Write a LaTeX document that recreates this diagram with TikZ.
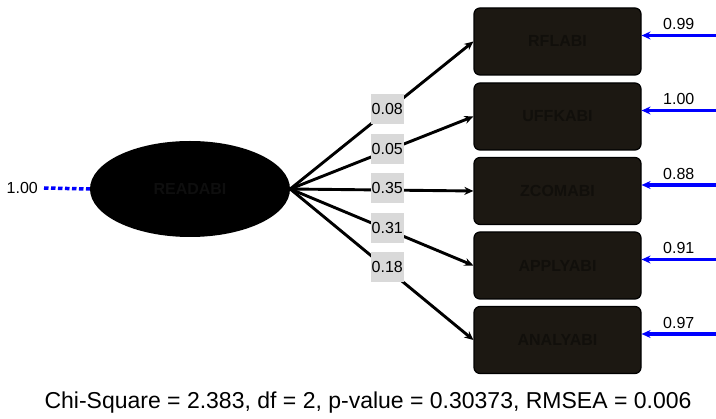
\documentclass[tikz,border=0pt]{standalone}
\usepackage{fontspec}
\setmainfont{Liberation Sans}
\usetikzlibrary{arrows.meta,shapes.geometric}
\definecolor{boxfill}{RGB}{28,24,18}
\definecolor{boxtext}{RGB}{17,15,11}
\definecolor{lattext}{RGB}{14,14,14}
\definecolor{lblgray}{RGB}{217,217,217}

\begin{document}
\begin{tikzpicture}[x=1pt,y=-1pt,
          every node/.style={inner sep=1pt,font=\fontsize{16}{16}\selectfont},
          >={Stealth[length=9pt,width=8pt]},
          obs/.style={draw=black,line width=1.2pt,fill=boxfill,rounded corners=6pt,
             minimum width=167pt,minimum height=67pt,
             font=\fontsize{16}{16}\selectfont\bfseries,text=boxtext},
          load/.style={fill=lblgray,minimum width=31pt,minimum height=30pt},
          path/.style={->,line width=2.9pt,black},
          err/.style={->,line width=3.2pt,blue}]
          \useasboundingbox(0,0)rectangle(716,419);
          \node[ellipse,fill=black,minimum width=200pt,minimum height=96pt,
             font=\fontsize{16}{16}\selectfont\bfseries,text=lattext]
             (lat) at (190,189) {READABI};
          \coordinate (var) at (44,188);
          \draw[blue,line width=3.5pt,dash pattern=on 4.5pt off 2.5pt](var)--(lat.west);
          \node[left=5pt] (varlbl) at (var) {1.00};
          \foreach \nm/\txt/\y/\ld/\e in {rfl/RFLABI/41.5/0.08/0.99,
             uff/UFFKABI/116.5/0.05/1.00,
             zco/ZCOMABI/191/0.35/0.88,
             app/APPLYABI/265.5/0.31/0.91,
             ana/ANALYABI/340/0.18/0.97}{
            \node[obs] (\nm) at (557.5,\y) {\txt};
            \draw[path](lat.east)--(\nm.west)node[load,pos=0.53,yshift=2pt]{\ld};
            \coordinate (\nm-e) at (716,\y-6);
            \draw[err](\nm-e)--(\nm-e -| \nm.east)node[midway,above=3pt,text=black]{\e};
          }
          \node (fit) at (368,403) {\fontsize{23}{23}\selectfont
             Chi-Square = 2.383, df = 2, p-value = 0.30373, RMSEA = 0.006};
        \end{tikzpicture}
\end{document}
